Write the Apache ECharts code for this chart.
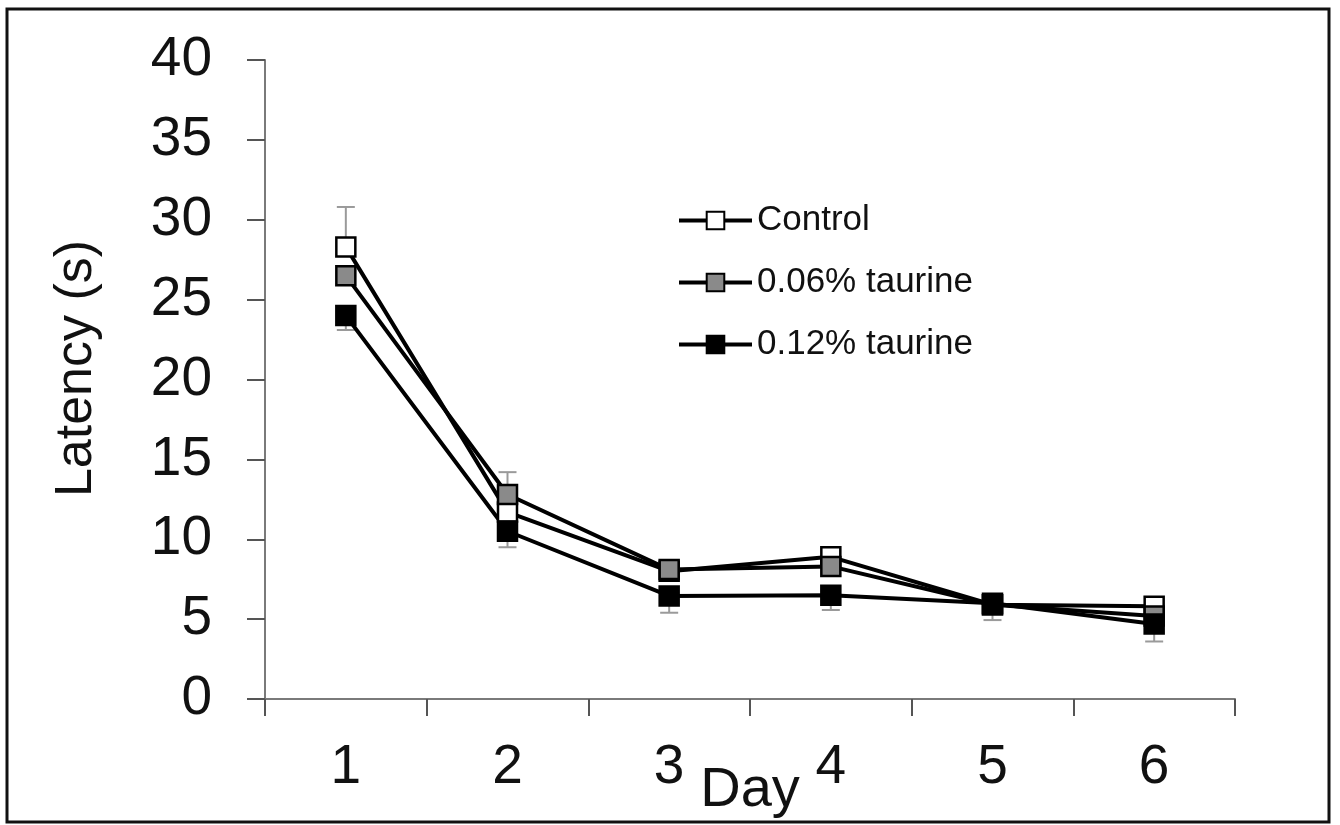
<!DOCTYPE html>
<html>
<head>
<meta charset="utf-8">
<style>
  html, body { margin: 0; padding: 0; background: #fff; }
  #chart { width: 1340px; height: 825px; }
</style>
<script src="https://cdn.jsdelivr.net/npm/echarts@6/dist/echarts.min.js"></script>
</head>
<body>
<div id="chart"></div>
<script>
// ---- data ----
const days = ['1', '2', '3', '4', '5', '6'];
const seriesNames = ['Control', '0.06% taurine', '0.12% taurine'];
const control = [28.3, 11.7, 8.0, 8.9, 5.9, 5.8];
const taurine006 = [26.5, 12.8, 8.1, 8.3, 5.9, 5.2];
const taurine012 = [24.0, 10.5, 6.45, 6.5, 6.0, 4.7];
// error bar lengths (only the visible side of each bar)
const controlErrUp = [2.5, 0, 0, 0, 0, 0];
const taurine006ErrUp = [0, 1.4, 0.4, 0, 0, 0];
const taurine012ErrDown = [0.9, 1.0, 1.05, 0.93, 1.06, 1.1];
const yTicks = { min: 0, max: 40, interval: 5 };

// ---- chart ----
const chart = echarts.init(document.getElementById('chart'), null, { renderer: 'canvas' });
const FONT = 'Liberation Sans, Arial, sans-serif';

function errorData(values, errs, dir) {
  return values.map((v, i) => [i, v, dir > 0 ? v + errs[i] : v - errs[i], errs[i]]);
}

function errorSeries(values, errs, dir) {
  return {
    type: 'custom',
    silent: true,
    z: 1,
    data: errorData(values, errs, dir),
    renderItem: function (params, api) {
      if (api.value(3) <= 0) return null;
      const p0 = api.coord([api.value(0), api.value(1)]);
      const p1 = api.coord([api.value(0), api.value(2)]);
      const cap = 9;
      const style = { stroke: '#9a9a9a', lineWidth: 2 };
      return {
        type: 'group',
        children: [
          { type: 'line', shape: { x1: p0[0], y1: p0[1], x2: p1[0], y2: p1[1] }, style: style },
          { type: 'line', shape: { x1: p1[0] - cap, y1: p1[1], x2: p1[0] + cap, y2: p1[1] }, style: style }
        ]
      };
    }
  };
}

function lineSeries(name, values, fill) {
  return {
    name: name,
    type: 'line',
    data: values,
    z: 3,
    symbol: 'rect',
    symbolSize: 19,
    lineStyle: { color: '#000', width: 4 },
    itemStyle: { color: fill, borderColor: '#000', borderWidth: 2.5 },
    emphasis: { disabled: true },
    animation: false
  };
}

chart.setOption({
  animation: false,
  backgroundColor: '#fff',
  grid: { left: 265, right: 105, top: 60, bottom: 126, containLabel: false, outerBoundsMode: 'none' },
  legend: {
    orient: 'vertical',
    left: 672,
    top: 198,
    itemWidth: 73,
    itemHeight: 22,
    itemGap: 27,
    data: seriesNames,
    lineStyle: { width: 4, color: '#000' },
    textStyle: { fontFamily: FONT, fontSize: 35, color: '#111', lineHeight: 34 }
  },
  xAxis: {
    type: 'category',
    data: days,
    boundaryGap: true,
    name: 'Day',
    nameLocation: 'middle',
    nameGap: 64,
    nameMoveOverlap: false,
    nameTextStyle: { fontFamily: FONT, fontSize: 56, color: '#111' },
    axisLine: { lineStyle: { color: '#7a7a7a', width: 2 } },
    axisTick: { show: true, length: 17, alignWithLabel: false, lineStyle: { color: '#555', width: 2 } },
    axisLabel: { fontFamily: FONT, fontSize: 55, color: '#111', margin: 41 },
    splitLine: { show: false }
  },
  yAxis: {
    type: 'value',
    min: yTicks.min,
    max: yTicks.max,
    interval: yTicks.interval,
    name: 'Latency (s)',
    nameLocation: 'middle',
    nameGap: 162,
    nameRotate: 90,
    nameMoveOverlap: false,
    nameTextStyle: { fontFamily: FONT, fontSize: 52, color: '#111', padding: [0, 0, 0, 22] },
    axisLine: { show: true, lineStyle: { color: '#7a7a7a', width: 2 } },
    axisTick: { show: true, length: 18, lineStyle: { color: '#555', width: 2 } },
    axisLabel: { fontFamily: FONT, fontSize: 55, color: '#111', margin: 53 },
    splitLine: { show: false }
  },
  graphic: [{
    type: 'rect',
    shape: { x: 7, y: 9, width: 1322, height: 813 },
    style: { fill: 'none', stroke: '#111', lineWidth: 3 },
    silent: true,
    z: 100
  }],
  series: [
    errorSeries(control, controlErrUp, 1),
    errorSeries(taurine006, taurine006ErrUp, 1),
    errorSeries(taurine012, taurine012ErrDown, -1),
    lineSeries(seriesNames[0], control, '#ffffff'),
    lineSeries(seriesNames[1], taurine006, '#8a8a8a'),
    lineSeries(seriesNames[2], taurine012, '#000000')
  ]
});
</script>
</body>
</html>
